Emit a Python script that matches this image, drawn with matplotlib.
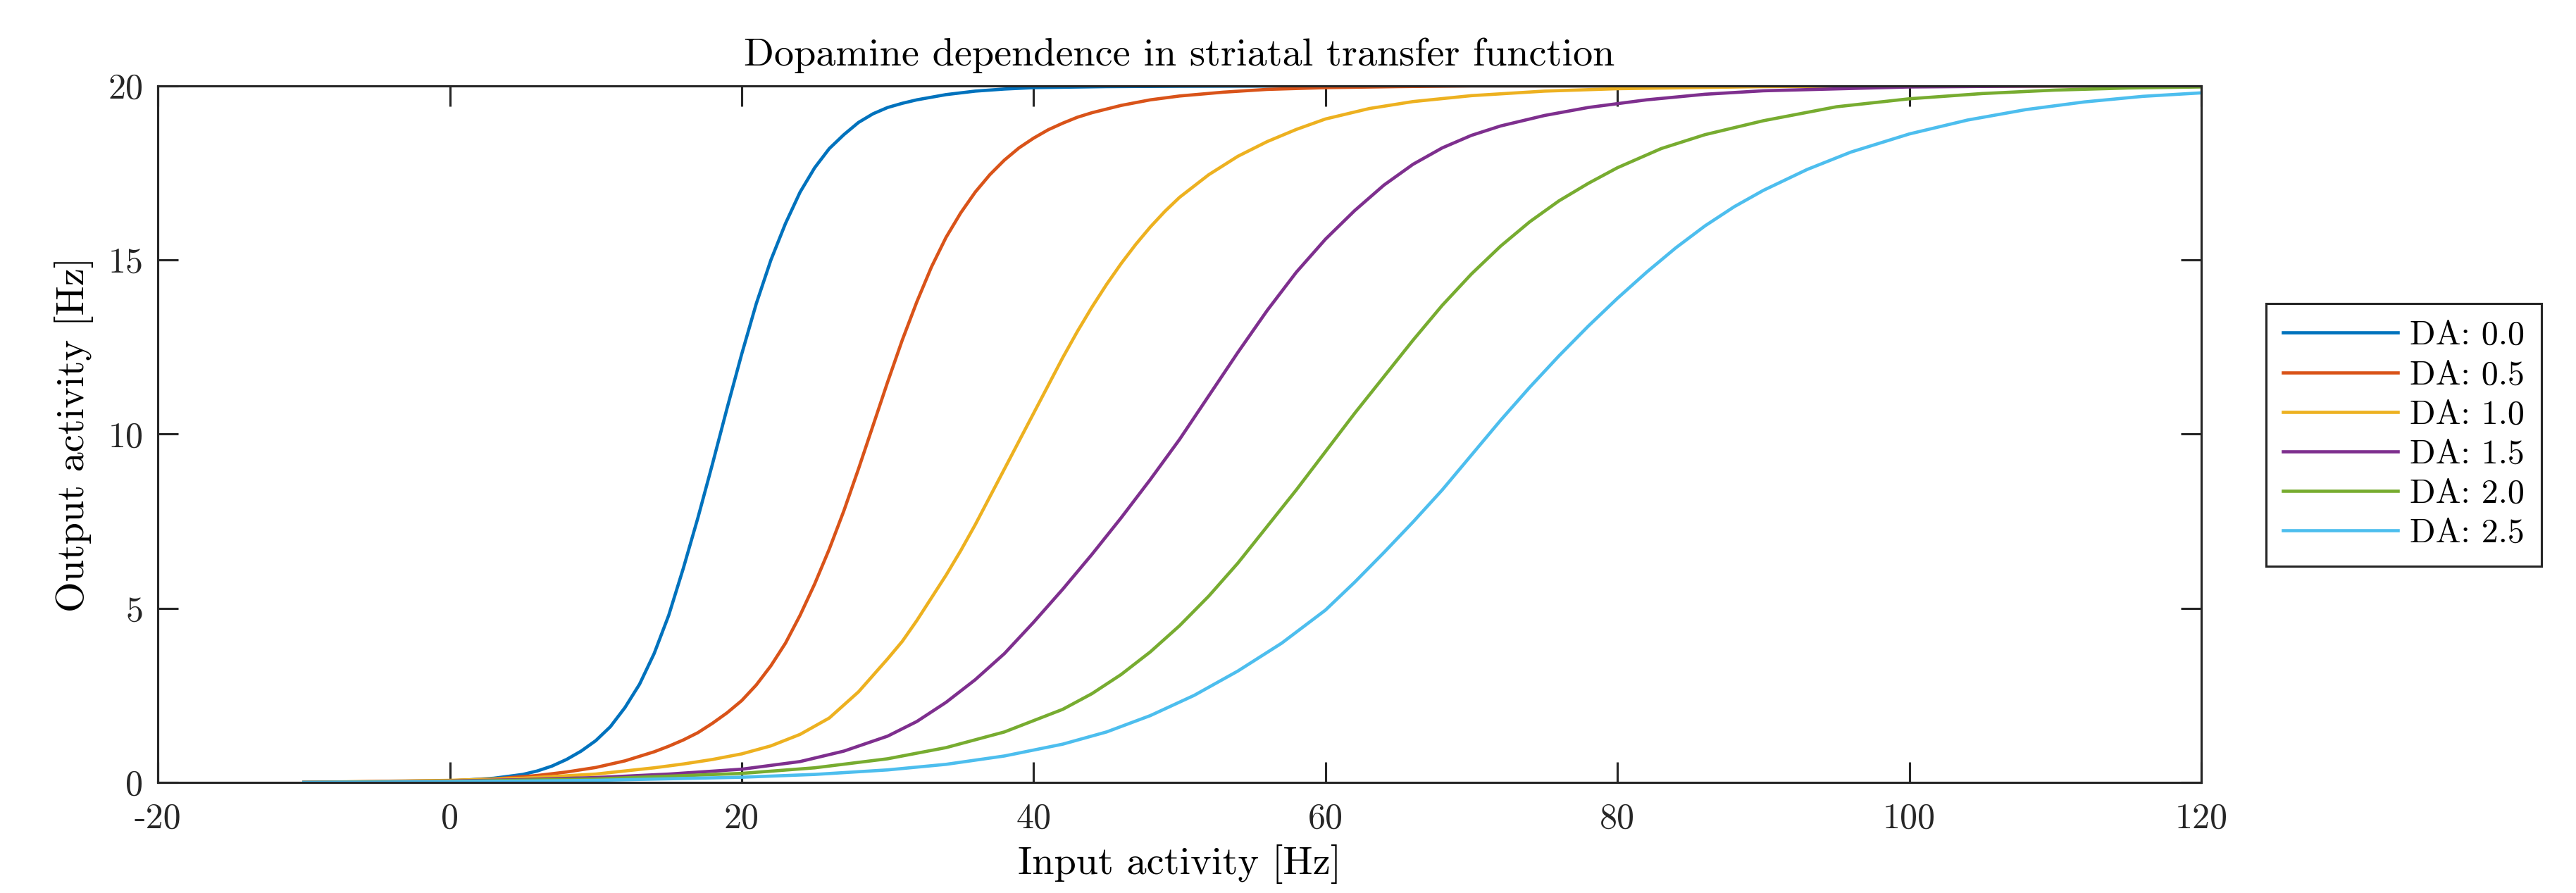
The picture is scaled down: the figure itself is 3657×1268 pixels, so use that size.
import matplotlib.pyplot as plt

plt.rcParams['font.family'] = 'cmr10'
plt.rcParams['axes.unicode_minus'] = False
plt.rcParams['mathtext.fontset'] = 'cm'

# values
labels = ['DA: 0.0', 'DA: 0.5', 'DA: 1.0', 'DA: 1.5', 'DA: 2.0', 'DA: 2.5']
colors = ['#0072BD', '#D95319', '#EDB120', '#7E2F8E', '#77AC30', '#4DBEEE']

x_da00 = [-10, -5, 0, 3, 5, 6, 7, 8, 9, 10, 11, 12, 13, 14, 15, 16, 17, 18, 19, 20,
          21, 22, 23, 24, 25, 26, 27, 28, 29, 30, 31, 32, 34, 36, 38, 40, 45, 50, 60, 120]
y_da00 = [0.0, 0.01, 0.04, 0.12, 0.23, 0.33, 0.47, 0.66, 0.9, 1.2, 1.6, 2.15, 2.82, 3.7,
          4.8, 6.15, 7.6, 9.15, 10.75, 12.3, 13.75, 15.0, 16.05, 16.95, 17.65, 18.2, 18.6,
          18.95, 19.2, 19.38, 19.5, 19.6, 19.75, 19.85, 19.91, 19.95, 19.98, 19.99, 20.0, 20.0]

x_da05 = [-10, 0, 3, 6, 8, 10, 12, 14, 15, 16, 17, 18, 19, 20, 21, 22, 23, 24, 25, 26,
          27, 28, 29, 30, 31, 32, 33, 34, 35, 36, 37, 38, 39, 40, 41, 42, 43, 44, 46, 48,
          50, 53, 56, 60, 65, 70, 120]
y_da05 = [0.0, 0.05, 0.1, 0.2, 0.3, 0.43, 0.62, 0.88, 1.04, 1.22, 1.43, 1.7, 2.0, 2.35,
          2.8, 3.35, 4.0, 4.8, 5.7, 6.7, 7.8, 9.0, 10.25, 11.5, 12.7, 13.8, 14.8, 15.65,
          16.35, 16.95, 17.45, 17.87, 18.22, 18.5, 18.74, 18.93, 19.1, 19.23, 19.44, 19.6,
          19.71, 19.82, 19.9, 19.95, 19.98, 20.0, 20.0]

x_da10 = [-10, 0, 5, 10, 14, 16, 18, 20, 22, 24, 26, 28, 30, 31, 32, 33, 34, 35, 36, 37,
          38, 39, 40, 41, 42, 43, 44, 45, 46, 47, 48, 49, 50, 52, 54, 56, 58, 60, 63, 66,
          70, 75, 80, 90, 100, 120]
y_da10 = [0.0, 0.06, 0.12, 0.24, 0.42, 0.53, 0.66, 0.82, 1.05, 1.38, 1.85, 2.6, 3.55,
          4.05, 4.65, 5.3, 5.95, 6.65, 7.4, 8.2, 9.0, 9.8, 10.6, 11.4, 12.2, 12.95, 13.65,
          14.3, 14.9, 15.45, 15.95, 16.4, 16.8, 17.45, 17.98, 18.4, 18.75, 19.05, 19.35,
          19.55, 19.72, 19.85, 19.92, 19.98, 20.0, 20.0]

x_da15 = [-10, 0, 5, 10, 15, 20, 24, 27, 30, 32, 34, 36, 38, 40, 42, 44, 46, 48, 50, 52,
          54, 56, 58, 60, 62, 64, 66, 68, 70, 72, 75, 78, 82, 86, 90, 100, 110, 120]
y_da15 = [0.0, 0.04, 0.08, 0.14, 0.24, 0.38, 0.6, 0.9, 1.33, 1.75, 2.3, 2.95, 3.7, 4.6,
          5.55, 6.55, 7.6, 8.7, 9.85, 11.1, 12.35, 13.55, 14.65, 15.6, 16.42, 17.15, 17.75,
          18.22, 18.58, 18.85, 19.15, 19.38, 19.6, 19.76, 19.86, 19.97, 20.0, 20.0]

x_da20 = [-10, 0, 10, 20, 25, 30, 34, 38, 42, 44, 46, 48, 50, 52, 54, 56, 58, 60, 62, 64,
          66, 68, 70, 72, 74, 76, 78, 80, 83, 86, 90, 95, 100, 105, 110, 115, 120]
y_da20 = [0.0, 0.03, 0.1, 0.26, 0.42, 0.68, 1.0, 1.45, 2.1, 2.55, 3.1, 3.75, 4.5, 5.35,
          6.3, 7.35, 8.4, 9.5, 10.6, 11.65, 12.7, 13.7, 14.6, 15.4, 16.1, 16.7, 17.2, 17.65,
          18.2, 18.6, 19.0, 19.4, 19.63, 19.78, 19.88, 19.94, 19.97]

x_da25 = [-10, 0, 10, 20, 25, 30, 34, 38, 42, 45, 48, 51, 54, 57, 60, 62, 64, 66, 68, 70,
          72, 74, 76, 78, 80, 82, 84, 86, 88, 90, 93, 96, 100, 104, 108, 112, 116, 120]
y_da25 = [0.0, 0.02, 0.06, 0.15, 0.23, 0.36, 0.52, 0.76, 1.1, 1.45, 1.92, 2.5, 3.2, 4.0,
          4.95, 5.75, 6.6, 7.48, 8.4, 9.4, 10.4, 11.35, 12.25, 13.1, 13.9, 14.65, 15.35,
          15.98, 16.53, 17.0, 17.6, 18.1, 18.62, 19.02, 19.32, 19.54, 19.7, 19.8]

xs = [x_da00, x_da05, x_da10, x_da15, x_da20, x_da25]
ys = [y_da00, y_da05, y_da10, y_da15, y_da20, y_da25]

fig = plt.figure(figsize=(12.19, 4.2267), dpi=300)
ax = fig.add_axes([0.0613, 0.1238, 0.7932, 0.7800])

for x, y, c, lab in zip(xs, ys, colors, labels):
    ax.plot(x, y, color=c, lw=1.1, label=lab, solid_joinstyle='round')

ax.set_xlim(-20, 120)
ax.set_ylim(0, 20)
ax.set_xticks(range(-20, 121, 20))
ax.set_yticks(range(0, 21, 5))

edge = '#262626'
for s in ax.spines.values():
    s.set_color(edge)
    s.set_linewidth(0.75)
ax.tick_params(direction='in', length=7, width=0.75, colors=edge, labelcolor='#262626',
               labelsize=12, top=True, right=True)
ax.tick_params(axis='x', pad=7)
ax.tick_params(axis='y', pad=5)

ax.set_title('Dopamine dependence in striatal transfer function', fontsize=13.5, pad=7)
ax.set_xlabel('Input activity [Hz]', fontsize=13.5, labelpad=3)
ax.set_ylabel('Output activity [Hz]', fontsize=13.5, labelpad=5)

leg = ax.legend(loc='center left', bbox_to_anchor=(0.8797, 0.513), bbox_transform=fig.transFigure,
                borderaxespad=0, fontsize=11.5, handlelength=3.4, handletextpad=0.35,
                labelspacing=0.25, fancybox=False, framealpha=1, borderpad=0.5)
leg.get_frame().set_edgecolor(edge)
leg.get_frame().set_linewidth(0.75)

fig.savefig('out.png', dpi=300)
